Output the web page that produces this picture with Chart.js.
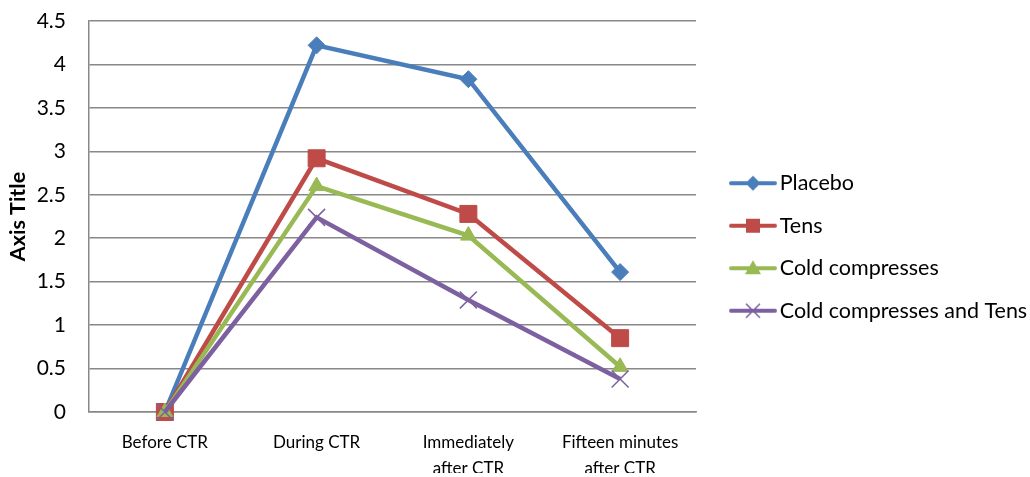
<!DOCTYPE html>
<html>
<head>
<meta charset="utf-8">
<script src="https://cdn.jsdelivr.net/npm/chart.js@4"></script>
<style>
  body { margin: 0; background: #fff; }
  #wrap { width: 1030px; height: 477px; }
</style>
</head>
<body>
<div id="wrap"><canvas id="chart" width="1030" height="477"></canvas></div>
<script>
// data
const categories = ['Before CTR', 'During CTR', ['Immediately', 'after CTR'], ['Fifteen minutes', 'after CTR']];
const placebo = [0, 4.22, 3.83, 1.61];
const tens = [0, 2.92, 2.28, 0.85];
const coldCompresses = [0, 2.60, 2.03, 0.52];
const coldAndTens = [0, 2.24, 1.29, 0.38];
const yTicks = [0, 0.5, 1, 1.5, 2, 2.5, 3, 3.5, 4, 4.5];
const yTickLabels = ['0', '0.5', '1', '1.5', '2', '2.5', '3', '3.5', '4', '4.5'];

const FONT = "Lato, 'Liberation Sans', Arial, sans-serif";
const GRID = '#888888';

// little legend pictures: a line with the marker on it
function makeIcon(color, shape) {
  const c = document.createElement('canvas');
  c.width = 68;
  c.height = 24;
  const g = c.getContext('2d');
  const cx = 44, cy = 12;
  g.strokeStyle = color;
  g.fillStyle = color;
  g.lineWidth = 4;
  g.lineCap = 'round';
  g.beginPath();
  g.moveTo(22, cy);
  g.lineTo(66, cy);
  g.stroke();
  g.beginPath();
  if (shape === 'diamond') {
    g.moveTo(cx, cy - 7.5); g.lineTo(cx + 7.5, cy); g.lineTo(cx, cy + 7.5); g.lineTo(cx - 7.5, cy);
    g.closePath(); g.fill();
  } else if (shape === 'square') {
    g.rect(cx - 7, cy - 7, 14, 14); g.fill();
  } else if (shape === 'triangle') {
    g.moveTo(cx, cy - 8); g.lineTo(cx + 8, cy + 6); g.lineTo(cx - 8, cy + 6);
    g.closePath(); g.fill();
  } else {
    g.lineWidth = 1.5;
    g.lineCap = 'butt';
    g.moveTo(cx - 7, cy - 7); g.lineTo(cx + 7, cy + 7);
    g.moveTo(cx + 7, cy - 7); g.lineTo(cx - 7, cy + 7);
    g.stroke();
  }
  return c;
}

const icons = [
  makeIcon('#4a7ebb', 'diamond'),
  makeIcon('#be4b48', 'square'),
  makeIcon('#98b954', 'triangle'),
  makeIcon('#7d60a0', 'cross')
];

function series(label, data, color, style, radius, order) {
  return {
    label: label,
    data: data,
    borderColor: color,
    backgroundColor: color,
    borderWidth: 4.5,
    pointStyle: style,
    pointRadius: radius,
    pointHoverRadius: radius,
    pointBackgroundColor: color,
    pointBorderColor: color,
    pointBorderWidth: style === 'crossRot' ? 1.5 : 1,
    tension: 0,
    clip: false,
    order: order
  };
}

new Chart(document.getElementById('chart'), {
  type: 'line',
  data: {
    labels: categories,
    datasets: [
      series('Placebo', placebo, '#4a7ebb', 'rectRot', 8.5, 4),
      series('Tens', tens, '#be4b48', 'rect', 12, 3),
      series('Cold compresses', coldCompresses, '#98b954', 'triangle', 9, 2),
      series('Cold compresses and Tens', coldAndTens, '#7d60a0', 'crossRot', 12, 1)
    ]
  },
  options: {
    responsive: false,
    animation: false,
    layout: { padding: { top: 21, right: 0, bottom: 4, left: 0 } },
    scales: {
      x: {
        offset: true,
        grid: { display: false },
        border: { display: true, color: GRID, width: 1.5 },
        ticks: {
          color: '#000',
          padding: 10,
          maxRotation: 0,
          autoSkip: false,
          font: { family: FONT, size: 17, lineHeight: 1.5 }
        },
        afterFit: (scale) => { scale.height = 61; }
      },
      y: {
        min: 0,
        max: 4.5,
        afterBuildTicks: (scale) => { scale.ticks = yTicks.map(v => ({ value: v })); },
        grid: { color: GRID, lineWidth: 1.5, drawTicks: false },
        border: { display: true, color: GRID, width: 1.5 },
        ticks: {
          color: '#000',
          padding: 23,
          callback: (value, i) => yTickLabels[i],
          font: { family: FONT, size: 21 }
        },
        title: {
          display: true,
          text: 'Axis Title',
          color: '#000',
          padding: { top: 5.5, bottom: 0 },
          font: { family: FONT, size: 21.5, weight: 'bold' }
        },
        afterFit: (scale) => {
          scale.width = 89;
          scale.paddingTop = 0;
          scale.paddingBottom = 0;
        }
      }
    },
    plugins: {
      tooltip: { enabled: false },
      legend: {
        position: 'right',
        align: 'center',
        maxWidth: 334,
        labels: {
          usePointStyle: true,
          pointStyleWidth: 52,
          padding: 21,
          color: '#000',
          font: { family: FONT, size: 21.5 },
          sort: (a, b) => a.datasetIndex - b.datasetIndex,
          generateLabels: (chart) => {
            const items = Chart.defaults.plugins.legend.labels.generateLabels(chart);
            items.forEach(item => { item.pointStyle = icons[item.datasetIndex]; });
            return items;
          }
        }
      }
    }
  }
});
</script>
</body>
</html>
